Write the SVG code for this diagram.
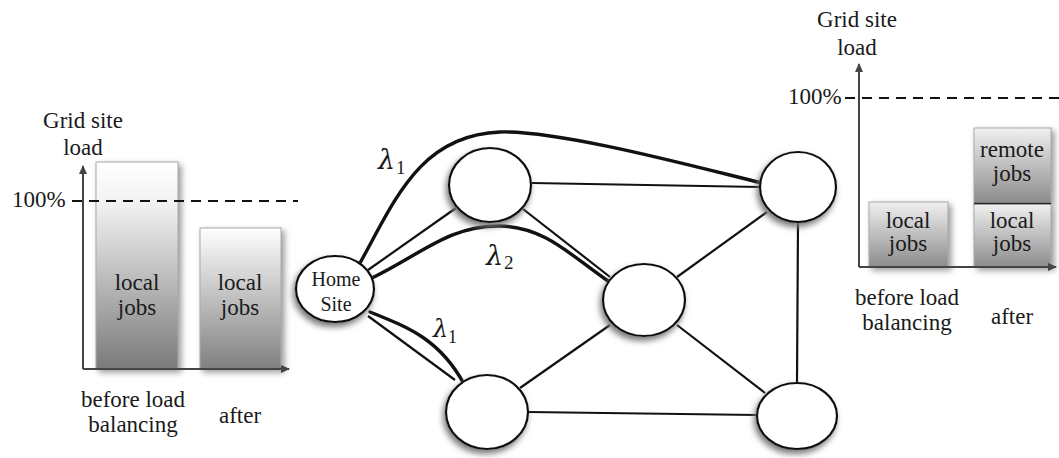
<svg xmlns="http://www.w3.org/2000/svg" width="1059" height="458" viewBox="0 0 1059 458">
  <defs>
    <style>
      .node { fill: #ffffff; stroke: #111; stroke-width: 2.2; filter: url(#nshadow); }
      .edge { fill: none; stroke: #111; stroke-width: 2.2; }
      .flow { fill: none; stroke: #111; stroke-width: 3.4; stroke-linecap: round; }
      .axis { stroke: #444; stroke-width: 2; fill: none; }
      .dash { stroke: #111; stroke-width: 2; stroke-dasharray: 10 7; fill: none; }
      .bar { stroke: #aaa; stroke-width: 1; filter: url(#bshadow); }
    </style>
    <filter id="nshadow" x="-30%" y="-30%" width="160%" height="160%">
      <feGaussianBlur in="SourceAlpha" stdDeviation="3"/>
      <feOffset dx="-2" dy="4" result="b"/>
      <feFlood flood-color="#777"/>
      <feComposite in2="b" operator="in"/>
      <feMerge><feMergeNode/><feMergeNode in="SourceGraphic"/></feMerge>
    </filter>
    <filter id="bshadow" x="-20%" y="-10%" width="140%" height="125%">
      <feGaussianBlur in="SourceAlpha" stdDeviation="3"/>
      <feOffset dx="3" dy="3" result="b"/>
      <feFlood flood-color="#999"/>
      <feComposite in2="b" operator="in"/>
      <feMerge><feMergeNode/><feMergeNode in="SourceGraphic"/></feMerge>
    </filter>
    <linearGradient id="gLeft1" x1="0" y1="0" x2="0" y2="1">
      <stop offset="0" stop-color="#ffffff"/>
      <stop offset="0.2" stop-color="#f2f2f2"/>
      <stop offset="1" stop-color="#7a7a7a"/>
    </linearGradient>
    <linearGradient id="gLeft2" x1="0" y1="0" x2="0" y2="1">
      <stop offset="0" stop-color="#ffffff"/>
      <stop offset="1" stop-color="#808080"/>
    </linearGradient>
    <linearGradient id="gRight" x1="0" y1="0" x2="0" y2="1">
      <stop offset="0" stop-color="#f0f0f0"/>
      <stop offset="1" stop-color="#8c8c8c"/>
    </linearGradient>
    <marker id="ah" viewBox="0 0 10 10" refX="8" refY="5" markerWidth="5" markerHeight="5" orient="auto">
      <path d="M0,1 L9,5 L0,9 Z" fill="#444"/>
    </marker>
  </defs>

  <rect x="0" y="0" width="1059" height="458" fill="#ffffff"/>

  <!-- Left chart -->
  <g id="left-chart" fill="#1a1a1a">
    <text x="83" y="128" font-family="Liberation Serif" font-size="23" text-anchor="middle">Grid site</text>
    <text x="83" y="155" font-family="Liberation Serif" font-size="23" text-anchor="middle">load</text>
    <rect class="bar" x="96" y="162" width="82" height="207" fill="url(#gLeft1)"/>
    <rect class="bar" x="200" y="228" width="81" height="141" fill="url(#gLeft2)"/>
    <line class="axis" x1="83" y1="369" x2="83" y2="166" marker-end="url(#ah)"/>
    <line class="axis" x1="83" y1="369" x2="289" y2="369" marker-end="url(#ah)"/>
    <text x="12" y="207" font-family="Liberation Serif" font-size="23">100%</text>
    <line class="dash" x1="72" y1="201" x2="298" y2="201"/>
    <text x="137" y="290" font-family="Liberation Serif" font-size="23" text-anchor="middle">local</text>
    <text x="137" y="315" font-family="Liberation Serif" font-size="23" text-anchor="middle">jobs</text>
    <text x="240" y="290" font-family="Liberation Serif" font-size="23" text-anchor="middle">local</text>
    <text x="240" y="315" font-family="Liberation Serif" font-size="23" text-anchor="middle">jobs</text>
    <text x="133" y="407" font-family="Liberation Serif" font-size="23" text-anchor="middle">before load</text>
    <text x="133" y="432" font-family="Liberation Serif" font-size="23" text-anchor="middle">balancing</text>
    <text x="240" y="423" font-family="Liberation Serif" font-size="23" text-anchor="middle">after</text>
  </g>

  <!-- Connectors -->
  <g id="connectors" fill="#1a1a1a">
    <line class="edge" x1="368" y1="270" x2="456" y2="208"/>
    <line class="edge" x1="368" y1="316" x2="455" y2="380"/>
    <line class="edge" x1="532" y1="183" x2="760" y2="187"/>
    <line class="edge" x1="523" y1="209" x2="610" y2="277"/>
    <line class="edge" x1="767" y1="212" x2="677" y2="277"/>
    <line class="edge" x1="798" y1="222" x2="797" y2="383"/>
    <line class="edge" x1="677" y1="325" x2="765" y2="393"/>
    <line class="edge" x1="610" y1="325" x2="520" y2="388"/>
    <line class="edge" x1="528" y1="412" x2="757" y2="415"/>
    <path class="flow" d="M360,263 C395,200 420,135 500,132 C560,130 700,168 762,183"/>
    <path class="flow" d="M372,278 C420,255 450,225 500,226 C545,227 570,255 608,281"/>
    <path class="flow" d="M370,312 C410,328 440,340 464,384"/>
    <text x="378" y="169" font-size="27" font-family="DejaVu Serif" font-style="italic">λ</text>
    <text x="396" y="174" font-size="19" font-family="Liberation Serif">1</text>
    <text x="486" y="265" font-size="27" font-family="DejaVu Serif" font-style="italic">λ</text>
    <text x="504" y="269" font-size="19" font-family="Liberation Serif">2</text>
    <text x="433" y="337" font-size="24" font-family="DejaVu Serif" font-style="italic">λ</text>
    <text x="448" y="343" font-size="18" font-family="Liberation Serif">1</text>
  </g>

  <!-- Nodes -->
  <g id="home">
    <ellipse class="node" cx="335" cy="289" rx="39" ry="33"/>
    <text x="336" y="286" font-family="Liberation Serif" font-size="20" text-anchor="middle" fill="#1a1a1a">Home</text>
    <text x="336" y="311" font-family="Liberation Serif" font-size="20" text-anchor="middle" fill="#1a1a1a">Site</text>
  </g>
  <g id="n-top-left">
    <ellipse class="node" cx="490" cy="185" rx="41" ry="37"/>
  </g>
  <g id="n-top-right">
    <ellipse class="node" cx="798" cy="187" rx="38" ry="35"/>
  </g>
  <g id="n-middle">
    <ellipse class="node" cx="644" cy="300" rx="41" ry="36"/>
  </g>
  <g id="n-bottom-left">
    <ellipse class="node" cx="487" cy="412" rx="41" ry="37"/>
  </g>
  <g id="n-bottom-right">
    <ellipse class="node" cx="797" cy="416" rx="40" ry="33"/>
  </g>

  <!-- Right chart -->
  <g id="right-chart" fill="#1a1a1a">
    <text x="857" y="27" font-family="Liberation Serif" font-size="23" text-anchor="middle">Grid site</text>
    <text x="857" y="55" font-family="Liberation Serif" font-size="23" text-anchor="middle">load</text>
    <text x="788" y="104" font-family="Liberation Serif" font-size="23">100%</text>
    <line class="dash" x1="845" y1="98" x2="1059" y2="98"/>
    <rect class="bar" x="869" y="202" width="79" height="65" fill="url(#gRight)"/>
    <rect class="bar" x="974" y="128" width="77" height="75" fill="url(#gRight)"/>
    <rect class="bar" x="974" y="204" width="77" height="63" fill="url(#gRight)"/>
    <line x1="974" y1="203.5" x2="1051" y2="203.5" stroke="#222" stroke-width="1.5"/>
    <line class="axis" x1="859" y1="267" x2="859" y2="64" marker-end="url(#ah)"/>
    <line class="axis" x1="859" y1="267" x2="1056" y2="267" marker-end="url(#ah)"/>
    <text x="908" y="228" font-family="Liberation Serif" font-size="23" text-anchor="middle">local</text>
    <text x="908" y="251" font-family="Liberation Serif" font-size="23" text-anchor="middle">jobs</text>
    <text x="1012" y="228" font-family="Liberation Serif" font-size="23" text-anchor="middle">local</text>
    <text x="1012" y="251" font-family="Liberation Serif" font-size="23" text-anchor="middle">jobs</text>
    <text x="1012" y="157" font-family="Liberation Serif" font-size="23" text-anchor="middle">remote</text>
    <text x="1012" y="181" font-family="Liberation Serif" font-size="23" text-anchor="middle">jobs</text>
    <text x="907" y="305" font-family="Liberation Serif" font-size="23" text-anchor="middle">before load</text>
    <text x="907" y="330" font-family="Liberation Serif" font-size="23" text-anchor="middle">balancing</text>
    <text x="1012" y="324" font-family="Liberation Serif" font-size="23" text-anchor="middle">after</text>
  </g>
</svg>
